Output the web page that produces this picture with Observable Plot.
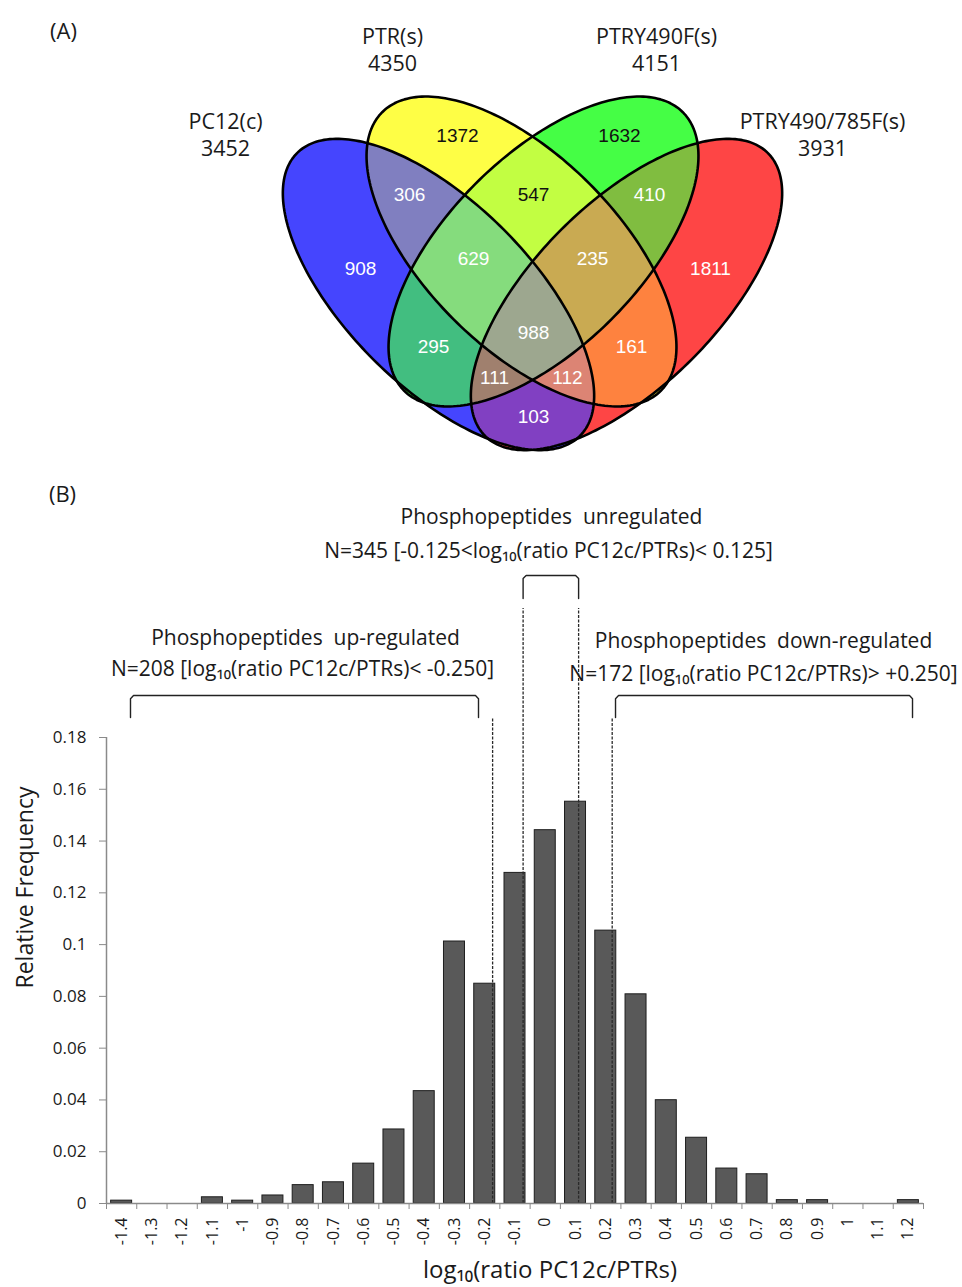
<!DOCTYPE html>
<html>
<head>
<meta charset="utf-8">
<script src="https://cdn.jsdelivr.net/npm/d3@7"></script>
<script src="https://cdn.jsdelivr.net/npm/@observablehq/plot@0.6"></script>
<style>
  body { margin: 0; background: #ffffff; }
  #root { width: 962px; }
  #root svg { display: block; }
</style>
</head>
<body>
<div id="root"></div>
<script>
// ================= DATA: panel (A) Venn =================
const vennSets = ["A", "B", "C", "D"];
const vennSetNames = ["PC12(c)", "PTR(s)", "PTRY490F(s)", "PTRY490/785F(s)"];
const vennSetTotals = [3452, 4350, 4151, 3931];
const regionKeys   = ["A", "B", "C", "D", "AB", "BC", "CD", "AC", "BD", "AD", "ABC", "BCD", "ACD", "ABD", "ABCD"];
const regionCounts = [908, 1372, 1632, 1811, 306, 547, 410, 295, 161, 103, 629, 235, 111, 112, 988];
const regionColors = ["#4545fe", "#fefe45", "#45fe45", "#fe4545", "#807fc0", "#c2fe42", "#80bd40", "#42be80",
                      "#fe823f", "#8140c2", "#85dc7d", "#c9aa52", "#a0806e", "#dc8474", "#9da78f"];
const darkLabelRegions = ["B", "C", "BC"];

// ================= DATA: panel (B) histogram =================
const binCenters = [-1.4, -1.3, -1.2, -1.1, -1, -0.9, -0.8, -0.7, -0.6, -0.5, -0.4, -0.3, -0.2, -0.1,
                    0, 0.1, 0.2, 0.3, 0.4, 0.5, 0.6, 0.7, 0.8, 0.9, 1, 1.1, 1.2];
const relFreq = [0.0011, 0, 0, 0.0024, 0.0011, 0.0031, 0.0071, 0.0082, 0.0154, 0.0286, 0.0434, 0.1012, 0.0849, 0.1277,
                 0.1442, 0.1552, 0.1054, 0.0808, 0.0399, 0.0254, 0.0135, 0.0113, 0.0013, 0.0013, 0, 0, 0.0013];
const yTickValues = [0, 0.02, 0.04, 0.06, 0.08, 0.1, 0.12, 0.14, 0.16, 0.18];
const annotationTexts = [
  "Phosphopeptides  unregulated",
  "N=345 [-0.125<log\u2081\u2080(ratio PC12c/PTRs)< 0.125]",
  "Phosphopeptides  up-regulated",
  "N=208 [log\u2081\u2080(ratio PC12c/PTRs)< -0.250]",
  "Phosphopeptides  down-regulated",
  "N=172 [log\u2081\u2080(ratio PC12c/PTRs)> +0.250]"
];
const xAxisLabel = "log\u2081\u2080(ratio PC12c/PTRs)";
const yAxisLabel = "Relative Frequency";

// ================= LAYOUT (geometry / annotation anchors) =================
const ellipseShapes = [
  {cx: 438, cy: 294, a: 200, b: 92, angle: 45},
  {cx: 521, cy: 251, a: 197, b: 96, angle: 45},
  {cx: 543, cy: 251, a: 197, b: 96, angle: -45},
  {cx: 626, cy: 294, a: 200, b: 92, angle: -45}
];
const regionLabelAnchors = [
  {x: 360, y: 268}, {x: 457, y: 135}, {x: 619, y: 135}, {x: 710, y: 268},
  {x: 409, y: 194}, {x: 533, y: 194}, {x: 649, y: 194}, {x: 433, y: 346},
  {x: 631, y: 346}, {x: 533, y: 416}, {x: 473, y: 258}, {x: 592, y: 258},
  {x: 494, y: 377}, {x: 567, y: 377}, {x: 533, y: 332}
];
const setLabelAnchors = [{x: 225, y: 133}, {x: 392, y: 48}, {x: 656, y: 48}, {x: 822, y: 133}];
const annotationAnchors = [
  {x: 0.0206, y: 0.2649}, {x: 0.0107, y: 0.2518},
  {x: -0.7923, y: 0.2185}, {x: -0.8023, y: 0.2062},
  {x: 0.7213, y: 0.2170}, {x: 0.7213, y: 0.2043}
];
const dashedGuides = [
  {x: -0.174, top: 0.1877}, {x: -0.0732, top: 0.2298},
  {x: 0.1102, top: 0.2298}, {x: 0.2212, top: 0.1877}
];
const brackets = [
  {id: "up",   x1: -1.3707, x2: -0.2206, top: 0.1962, foot: 0.1877},
  {id: "un",   x1: -0.0732, x2: 0.1102,  top: 0.2426, foot: 0.2337},
  {id: "down", x1: 0.2322,  x2: 1.2137,  top: 0.1962, foot: 0.1877}
];

// ================= Panel (A) construction =================
const rad = Math.PI / 180;
function insideEllipse(e, x, y) {
  const t = e.angle * rad, dx = x - e.cx, dy = y - e.cy;
  const u = dx * Math.cos(t) + dy * Math.sin(t);
  const v = -dx * Math.sin(t) + dy * Math.cos(t);
  return (u * u) / (e.a * e.a) + (v * v) / (e.b * e.b) <= 1;
}
function regionKeyAt(x, y) {
  let k = "";
  ellipseShapes.forEach((e, i) => { if (insideEllipse(e, x, y)) k += vennSets[i]; });
  return k;
}
const colorByKey = new Map(regionKeys.map((k, i) => [k, regionColors[i]]));

const outline = ellipseShapes.flatMap((e, i) => d3.range(0, 360, 1.5).map(deg => {
  const p = deg * rad, t = e.angle * rad;
  const ex = e.a * Math.cos(p), ey = e.b * Math.sin(p);
  return {set: vennSets[i], x: e.cx + ex * Math.cos(t) - ey * Math.sin(t), y: e.cy + ex * Math.sin(t) + ey * Math.cos(t)};
}));

const regionLabels = regionKeys.map((k, i) => ({
  x: regionLabelAnchors[i].x, y: regionLabelAnchors[i].y,
  text: String(regionCounts[i]),
  fill: darkLabelRegions.includes(k) ? "#111111" : "#ffffff"
}));
const setLabels = vennSetNames.map((n, i) => ({x: setLabelAnchors[i].x, y: setLabelAnchors[i].y, text: n + "\n" + vennSetTotals[i]}));

const venn = Plot.plot({
  width: 962, height: 470, margin: 0,
  x: {domain: [0, 962], range: [0, 962], axis: null},
  y: {domain: [0, 470], range: [0, 470], axis: null},
  style: {background: "#ffffff"},
  marks: [
    Plot.raster({x1: 250, x2: 810, y1: 80, y2: 470, width: 560, height: 390,
      fill: (x, y) => colorByKey.get(regionKeyAt(x, y)) || "#ffffff"}),
    Plot.line(outline, {x: "x", y: "y", z: "set", stroke: "#000000", strokeWidth: 2.6, curve: "linear-closed"}),
    Plot.text(regionLabels, {x: "x", y: "y", text: "text", fill: "fill", fontSize: 19,
      fontFamily: "'Liberation Sans', Arial, sans-serif"}),
    Plot.text(setLabels, {x: "x", y: "y", text: "text", fontSize: 21.5, lineHeight: 1.28,
      fontFamily: "'Open Sans', sans-serif", fill: "#1a1a1a"}),
    Plot.text([{x: 63, y: 31, text: "(A)"}], {x: "x", y: "y", text: "text", fontSize: 22,
      fontFamily: "'Open Sans', sans-serif", fill: "#1a1a1a"})
  ]
});

// ================= Panel (B) construction =================
const bars = binCenters.map((c, i) => ({center: c, freq: relFreq[i]}));
const boundaries = binCenters.map(c => +(c - 0.05).toFixed(2)).concat([+(binCenters[binCenters.length - 1] + 0.05).toFixed(2)]);
const annotations = annotationTexts.map((t, i) => ({text: t, x: annotationAnchors[i].x, y: annotationAnchors[i].y}));
const bracketPts = brackets.flatMap(b => {
  const rx = 0.01, ry = 0.0012;
  return [
    {id: b.id, x: b.x1, y: b.foot}, {id: b.id, x: b.x1, y: b.top - ry}, {id: b.id, x: b.x1 + rx, y: b.top},
    {id: b.id, x: b.x2 - rx, y: b.top}, {id: b.id, x: b.x2, y: b.top - ry}, {id: b.id, x: b.x2, y: b.foot}
  ];
});

const hist = Plot.plot({
  width: 962, height: 817,
  marginLeft: 106, marginRight: 39, marginTop: 267, marginBottom: 84,
  x: {domain: [-1.45, 1.25]},
  y: {domain: [0, 0.18]},
  style: {fontFamily: "'Open Sans', sans-serif", background: "#ffffff", overflow: "visible"},
  marks: [
    Plot.rectY(bars, {x1: d => d.center - 0.0347, x2: d => d.center + 0.0347, y: "freq",
      fill: "#595959", stroke: "#1e1e1e", strokeWidth: 1}),
    Plot.ruleX(dashedGuides, {x: "x", y1: 0, y2: "top", stroke: "#2a2a2a", strokeWidth: 1.3, strokeDasharray: "3,1.5"}),
    Plot.ruleY([0], {stroke: "#8a8a8a", strokeWidth: 1.5}),
    Plot.ruleX([-1.45], {y1: 0, y2: 0.18, stroke: "#8a8a8a", strokeWidth: 1.5}),
    Plot.axisY(yTickValues, {tickSize: 7, tickPadding: 13, stroke: "#8a8a8a", fill: "#1a1a1a", fontSize: 17,
      tickFormat: d => String(d), label: null}),
    Plot.axisX(boundaries, {tickSize: 6, stroke: "#8a8a8a", fill: "none", tickFormat: () => "", label: null}),
    Plot.axisX(binCenters, {tickSize: 0, tickPadding: 14, tickRotate: -90, fontSize: 16, fill: "#1a1a1a",
      tickFormat: d => String(d), label: null}),
    Plot.line(bracketPts, {x: "x", y: "y", z: "id", stroke: "#222222", strokeWidth: 1.4}),
    Plot.text(annotations, {x: "x", y: "y", text: "text", fontSize: 21, fill: "#1a1a1a"}),
    Plot.text([yAxisLabel], {frameAnchor: "left", dx: -81, dy: 18, rotate: -90, fontSize: 23, fill: "#1a1a1a"}),
    Plot.text([xAxisLabel], {frameAnchor: "bottom", dx: 35, dy: 74, fontSize: 24, fill: "#1a1a1a"}),
    Plot.text([{x: -1.5954, y: 0.2735, text: "(B)"}], {x: "x", y: "y", text: "text", fontSize: 22, fill: "#1a1a1a"})
  ]
});

document.getElementById("root").append(venn, hist);
</script>
</body>
</html>
